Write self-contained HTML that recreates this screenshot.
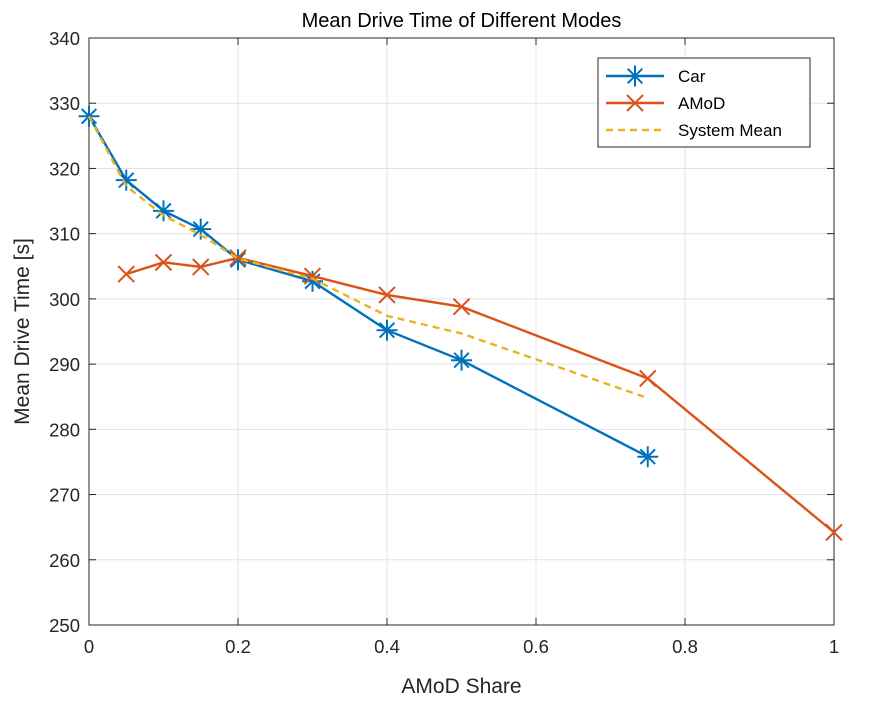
<!DOCTYPE html>
<html><head><meta charset="utf-8"><style>
body{margin:0;background:#fff;font-family:"Liberation Sans",sans-serif}
svg{display:block}
</style></head><body>
<svg id="c" width="883" height="706"></svg>
<script>
const xTicks=[0,0.2,0.4,0.6,0.8,1];
const xTickLabels=["0","0.2","0.4","0.6","0.8","1"];
const yTicks=[250,260,270,280,290,300,310,320,330,340];
const carX=[0,0.05,0.1,0.15,0.2,0.3,0.4,0.5,0.75];
const carY=[328,318.2,313.5,310.7,306,302.7,295.2,290.6,275.8];
const amodX=[0.05,0.1,0.15,0.2,0.3,0.4,0.5,0.75,1];
const amodY=[303.8,305.6,304.9,306.3,303.5,300.6,298.8,287.8,264.2];
const sysX=[0,0.05,0.1,0.15,0.2,0.3,0.4,0.5,0.75];
const sysY=[328,317.3,312.8,309.8,306.2,303.1,297.4,294.7,284.8];
const L=89,R=834,T=38,B=625;
const sx=v=>L+(v-0)/(1-0)*(R-L);
const sy=v=>B-(v-250)/(340-250)*(B-T);
const svg=document.getElementById('c');
const NS='http://www.w3.org/2000/svg';
function mk(tag,attrs,parent){const e=document.createElementNS(NS,tag);for(const k in attrs)e.setAttribute(k,attrs[k]);(parent||svg).appendChild(e);return e;}
const grid=mk('g',{});


xTicks.forEach(v=>mk('line',{x1:sx(v),x2:sx(v),y1:T,y2:B,stroke:'#e3e3e3','stroke-width':1},grid));
yTicks.forEach(v=>mk('line',{x1:L,x2:R,y1:sy(v),y2:sy(v),stroke:'#e3e3e3','stroke-width':1},grid));
const ax=mk('rect',{x:L,y:T,width:R-L,height:B-T,fill:'none',stroke:'#262626','stroke-width':1});


xTicks.forEach((v,i)=>{
 mk('line',{x1:sx(v),x2:sx(v),y1:B,y2:B-7,stroke:'#262626'});
 mk('line',{x1:sx(v),x2:sx(v),y1:T,y2:T+7,stroke:'#262626'});
 const t=mk('text',{x:sx(v),y:B+28,'text-anchor':'middle','font-size':18.5,fill:'#262626'});t.textContent=xTickLabels[i];
 
 
});
yTicks.forEach(v=>{
 mk('line',{x1:L,x2:L+7,y1:sy(v),y2:sy(v),stroke:'#262626'});
 mk('line',{x1:R,x2:R-7,y1:sy(v),y2:sy(v),stroke:'#262626'});
 const t=mk('text',{x:L-9,y:sy(v)+7,'text-anchor':'end','font-size':18.5,fill:'#262626'});t.textContent=v;
 
 
});
let t=mk('text',{x:(L+R)/2,y:27,'text-anchor':'middle','font-size':20,fill:'#000'});t.textContent='Mean Drive Time of Different Modes';


t=mk('text',{x:(L+R)/2,y:693,'text-anchor':'middle','font-size':21,fill:'#262626'});t.textContent='AMoD Share';


t=mk('text',{x:0,y:0,'text-anchor':'middle','font-size':21,fill:'#262626',transform:`translate(29,${(T+B)/2}) rotate(-90)`});t.textContent='Mean Drive Time [s]';


function star(g,x,y,c){const r=10.5;
 mk('line',{x1:x-r,x2:x+r,y1:y,y2:y,stroke:c,'stroke-width':2},g);
 mk('line',{x1:x,x2:x,y1:y-r,y2:y+r,stroke:c,'stroke-width':2},g);
 const d=r*0.7;
 mk('line',{x1:x-d,x2:x+d,y1:y-d,y2:y+d,stroke:c,'stroke-width':2},g);
 mk('line',{x1:x-d,x2:x+d,y1:y+d,y2:y-d,stroke:c,'stroke-width':2},g);}
function cross(g,x,y,c){const d=8;
 mk('line',{x1:x-d,x2:x+d,y1:y-d,y2:y+d,stroke:c,'stroke-width':2},g);
 mk('line',{x1:x-d,x2:x+d,y1:y+d,y2:y-d,stroke:c,'stroke-width':2},g);}
function series(xs,ys,c,name,marker,dash){
 const g=mk('g',{});
 
 
 const a={points:xs.map((x,i)=>sx(x)+','+sy(ys[i])).join(' '),fill:'none',stroke:c,'stroke-width':2.4};
 if(dash)a['stroke-dasharray']='7,5';
 mk('polyline',a,g);
 if(marker)xs.forEach((x,i)=>marker(g,sx(x),sy(ys[i]),c));
}
series(carX,carY,'#0072BD','car-series',star);
series(amodX,amodY,'#D95319','amod-series',cross);
series(sysX,sysY,'#EDB120','system-mean-series',null,true);
const lg=mk('g',{});


mk('rect',{x:598,y:58,width:212,height:89,fill:'#fff',stroke:'#262626','stroke-width':1},lg);
const ent=[['Car','#0072BD',star,false],['AMoD','#D95319',cross,false],['System Mean','#EDB120',null,true]];
ent.forEach((e,i)=>{const y=76+i*27;
 const a={x1:606,x2:664,y1:y,y2:y,stroke:e[1],'stroke-width':2.4};if(e[3])a['stroke-dasharray']='7,5';
 mk('line',a,lg);if(e[2])e[2](lg,635,y,e[1]);
 const tt=mk('text',{x:678,y:y+6,'font-size':17,fill:'#000'},lg);tt.textContent=e[0];
 
 
});
</script>
</body></html>
